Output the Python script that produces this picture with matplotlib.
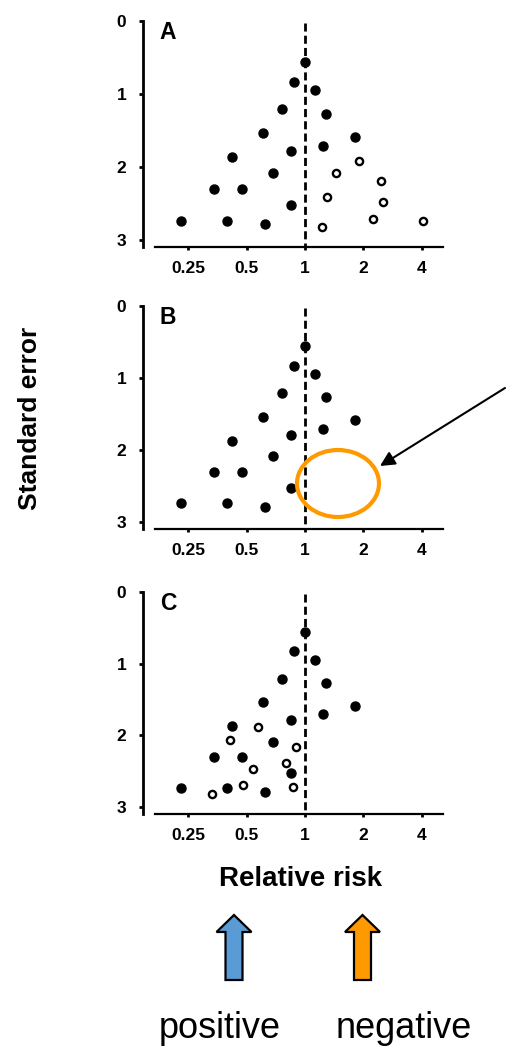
import numpy as np
import matplotlib
matplotlib.use("Agg")
import matplotlib.pyplot as plt
from matplotlib.patches import Ellipse, Polygon, FancyArrowPatch

plt.rcParams['font.family'] = ['Liberation Sans', 'DejaVu Sans']

# studies (relative risk, standard error) - same in all panels
filled_rr = [1.0, 0.88, 1.12, 0.76, 1.29, 0.61, 1.81, 1.24, 0.85, 0.42, 0.68, 0.337, 0.47, 0.85, 0.229, 0.396, 0.62]
filled_se = [0.56, 0.83, 0.95, 1.21, 1.27, 1.54, 1.59, 1.71, 1.79, 1.87, 2.09, 2.31, 2.31, 2.53, 2.74, 2.74, 2.79]

# imputed / missing studies
open_a_rr = [1.44, 1.90, 2.48, 1.30, 2.53, 2.25, 4.06, 1.23]
open_a_se = [2.09, 1.92, 2.19, 2.41, 2.48, 2.71, 2.74, 2.83]
open_c_rr = [0.57, 0.41, 0.90, 0.80, 0.54, 0.48, 0.87, 0.33]
open_c_se = [1.89, 2.07, 2.16, 2.39, 2.47, 2.70, 2.72, 2.82]

panels = ['A', 'B', 'C']
open_pts = {'A': (open_a_rr, open_a_se), 'B': None, 'C': (open_c_rr, open_c_se)}
x_ticks = [0.25, 0.5, 1, 2, 4]
x_labels = ['0.25', '0.5', '1', '2', '4']
y_ticks = [0, 1, 2, 3]

W, H = 512, 1052
fig = plt.figure(figsize=(W / 100, H / 100), dpi=100)

# (top, bottom) of each panel in pixels
boxes = {'A': (21, 247), 'B': (306, 529), 'C': (592, 814)}
left, right = 155, 443

for p in panels:
    top, bot = boxes[p]
    ax = fig.add_axes([left / W, 1 - bot / H, (right - left) / W, (bot - top) / H])
    ax.set_xscale('log')
    ax.set_xlim(0.168, 5.16)
    ax.set_ylim(3.1, 0)
    ax.plot([1, 1], [0.03, 3.1], color='black', lw=2, dashes=(2.9, 1.5), zorder=1)
    ax.plot(filled_rr, filled_se, 'o', color='black', ms=6.5, zorder=3)
    if open_pts[p] is not None:
        orr, ose = open_pts[p]
        ax.plot(orr, ose, 'o', mfc='white', mec='black', mew=1.7, ms=5.2, zorder=3)
    ax.spines['right'].set_visible(False)
    ax.spines['top'].set_visible(False)
    ax.spines['left'].set_position(('outward', 8.6))
    ax.spines['left'].set_linewidth(2.0)
    ax.spines['left'].set_bounds(0, 3.1)
    ax.spines['bottom'].set_linewidth(1.6)
    ax.set_xticks(x_ticks)
    ax.set_xticklabels(x_labels)
    ax.minorticks_off()
    ax.set_yticks(y_ticks)
    ax.tick_params(axis='x', length=2, width=2, pad=8, labelsize=12.5)
    ax.tick_params(axis='y', length=3, width=2, pad=9, labelsize=12.5)
    for lab in ax.get_xticklabels() + ax.get_yticklabels():
        lab.set_fontweight('bold')
    ax.text(0.017, 0.998, p, transform=ax.transAxes, ha='left', va='top',
            fontsize=16.5, fontweight='bold')
    ax.patch.set_alpha(0)

fig.text(30 / W, 1 - 418 / H, 'Standard error', rotation=90, ha='center', va='center',
         fontsize=19, fontweight='bold')
fig.text(301 / W, 1 - 879 / H, 'Relative risk', ha='center', va='center',
         fontsize=20, fontweight='bold')

# overlay in pixel coordinates for the annotations
ov = fig.add_axes([0, 0, 1, 1])
ov.set_xlim(0, W)
ov.set_ylim(H, 0)
ov.axis('off')

ov.add_patch(Ellipse((338, 483.5), 82, 67, fill=False, ec='#FF9900', lw=3))
ov.add_patch(FancyArrowPatch((505, 388), (380, 466), arrowstyle='-|>', mutation_scale=22,
                             color='black', lw=1.5, shrinkA=0, shrinkB=0))


def up_arrow(cx, color):
    pts = [(cx, 915), (cx + 17.5, 932), (cx + 8.5, 932), (cx + 8.5, 980),
           (cx - 8.5, 980), (cx - 8.5, 932), (cx - 17.5, 932)]
    ov.add_patch(Polygon(pts, closed=True, fc=color, ec='black', lw=1.6))


up_arrow(234, '#5B9BD5')
up_arrow(362.5, '#FF9900')

ov.text(220, 1038, 'positive', ha='center', va='baseline', fontsize=26)
ov.text(403.5, 1038, 'negative', ha='center', va='baseline', fontsize=26)

fig.savefig('out.png', dpi=100)
